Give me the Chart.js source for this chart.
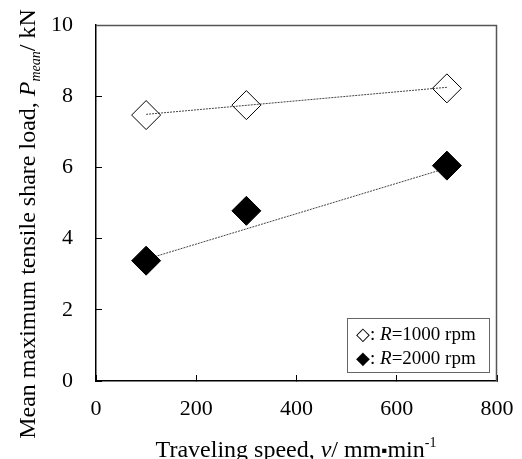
<!DOCTYPE html>
<html><head><meta charset="utf-8">
<script src="https://cdn.jsdelivr.net/npm/chart.js@4.4.0/dist/chart.umd.min.js"></script>
<style>html,body{margin:0;padding:0;background:#fff}</style>
</head><body>
<canvas id="c" width="522" height="459"></canvas>
<script>
// ---- data ----
const speeds = [100, 300, 700];
const load1000 = [7.47, 7.75, 8.22];
const load2000 = [3.38, 4.78, 6.05];
const trendX = [100, 700];
const trend1000 = [7.49, 8.25];
const trend2000 = [3.42, 5.98];
const xTicks = [0, 200, 400, 600, 800];
const yTicks = [0, 2, 4, 6, 8, 10];
const seriesNames = ['R=1000 rpm', 'R=2000 rpm'];
const legendRpm = ['1000', '2000'];
const legendSymbols = ['\u25C7', '\u25C6'];

const SERIF = "'Liberation Serif', 'Times New Roman', serif";

function drawRich(ctx, segs, x, y) {
  let total = 0;
  segs.forEach(s => {
    ctx.font = (s.italic ? 'italic ' : '') + s.size + 'px ' + SERIF;
    s.w = ctx.measureText(s.t).width;
    total += s.w;
  });
  let cx = x - total / 2;
  ctx.textBaseline = 'alphabetic';
  ctx.textAlign = 'left';
  segs.forEach(s => {
    ctx.font = (s.italic ? 'italic ' : '') + s.size + 'px ' + SERIF;
    ctx.fillText(s.t, cx, y + (s.dy || 0));
    cx += s.w;
  });
}
function drawRichLeft(ctx, segs, x, y) {
  let cx = x;
  ctx.textBaseline = 'alphabetic';
  ctx.textAlign = 'left';
  segs.forEach(s => {
    ctx.font = (s.italic ? 'italic ' : '') + s.size + 'px ' + SERIF;
    ctx.fillText(s.t, cx, y + (s.dy || 0));
    cx += ctx.measureText(s.t).width;
  });
}

const frameAndText = {
  id: 'frameAndText',
  afterDraw(chart) {
    const { ctx, chartArea: a } = chart;
    ctx.save();
    // plot area frame (top, right)
    ctx.strokeStyle = '#555';
    ctx.lineWidth = 1.5;
    ctx.beginPath();
    ctx.moveTo(a.left, a.top + 0.5);
    ctx.lineTo(a.right - 0.5, a.top + 0.5);
    ctx.lineTo(a.right - 0.5, a.bottom);
    ctx.stroke();

    ctx.fillStyle = '#000';
    // x axis title
    drawRich(ctx, [
      { t: 'Traveling speed, ', size: 24 },
      { t: 'v', size: 24, italic: true },
      { t: '/ mm', size: 24 },
      { t: '\u25AA', size: 17, dy: -1 },
      { t: 'min', size: 24 },
      { t: '-1', size: 14, dy: -10 }
    ], 296, 457);

    // y axis title
    ctx.save();
    ctx.translate(35, 224);
    ctx.rotate(-Math.PI / 2);
    drawRich(ctx, [
      { t: 'Mean maximum tensile share load, ', size: 24 },
      { t: 'P', size: 24, italic: true },
      { t: 'mean', size: 14, italic: true, dy: 5 },
      { t: '/ kN', size: 24 }
    ], 0, 0);
    ctx.restore();

    // legend box
    const bx = 347, by = 318, bw = 142, bh = 54;
    ctx.fillStyle = '#fff';
    ctx.fillRect(bx, by, bw, bh);
    ctx.strokeStyle = '#666';
    ctx.lineWidth = 1;
    ctx.strokeRect(bx + 0.5, by + 0.5, bw, bh);
    ctx.fillStyle = '#000';
    for (let i = 0; i < 2; i++) {
      drawRichLeft(ctx, [
        { t: legendSymbols[i], size: 18 },
        { t: ': ', size: 19 },
        { t: 'R', size: 19, italic: true },
        { t: '=' + legendRpm[i] + ' rpm', size: 19 }
      ], 356, 340 + i * 23.5);
    }
    ctx.restore();
  }
};

const tickFont = { family: SERIF, size: 22 };

new Chart(document.getElementById('c'), {
  type: 'scatter',
  data: {
    datasets: [
      {
        label: seriesNames[0],
        data: speeds.map((x, i) => ({ x, y: load1000[i] })),
        pointStyle: 'rectRot', pointRadius: 14.5,
        pointBackgroundColor: 'rgba(255,255,255,0)', pointBorderColor: '#000', pointBorderWidth: 1,
        showLine: false
      },
      {
        label: seriesNames[1],
        data: speeds.map((x, i) => ({ x, y: load2000[i] })),
        pointStyle: 'rectRot', pointRadius: 14.5,
        pointBackgroundColor: '#000', pointBorderColor: '#000', pointBorderWidth: 1,
        showLine: false
      },
      {
        label: 'trend 1000',
        data: trendX.map((x, i) => ({ x, y: trend1000[i] })),
        showLine: true, pointRadius: 0, borderColor: '#444', borderWidth: 1, borderDash: [2, 1], fill: false
      },
      {
        label: 'trend 2000',
        data: trendX.map((x, i) => ({ x, y: trend2000[i] })),
        showLine: true, pointRadius: 0, borderColor: '#444', borderWidth: 1, borderDash: [2, 1], fill: false
      }
    ]
  },
  options: {
    responsive: false,
    animation: false,
    devicePixelRatio: 1,
    layout: { padding: { top: 25, right: 25, left: 0, bottom: 0 } },
    plugins: { legend: { display: false }, tooltip: { enabled: false } },
    scales: {
      x: {
        type: 'linear', min: 0, max: 800,
        afterBuildTicks: s => { s.ticks = xTicks.map(v => ({ value: v })); },
        afterFit: s => { s.height = 78; s.paddingLeft = 0; s.paddingRight = 0; },
        ticks: { font: tickFont, color: '#000', padding: 21, maxRotation: 0 },
        grid: { drawOnChartArea: false, drawTicks: true, tickLength: -6, tickColor: '#000', tickWidth: 1 },
        border: { display: true, color: '#000', width: 1.5 }
      },
      y: {
        type: 'linear', min: 0, max: 10,
        afterBuildTicks: s => { s.ticks = yTicks.map(v => ({ value: v })); },
        afterFit: s => { s.width = 96; s.paddingTop = 0; s.paddingBottom = 0; },
        ticks: { font: tickFont, color: '#000', padding: 29 },
        grid: { drawOnChartArea: false, drawTicks: true, tickLength: -6, tickColor: '#000', tickWidth: 1 },
        border: { display: true, color: '#000', width: 1.5 }
      }
    }
  },
  plugins: [frameAndText]
});
</script>
</body></html>
